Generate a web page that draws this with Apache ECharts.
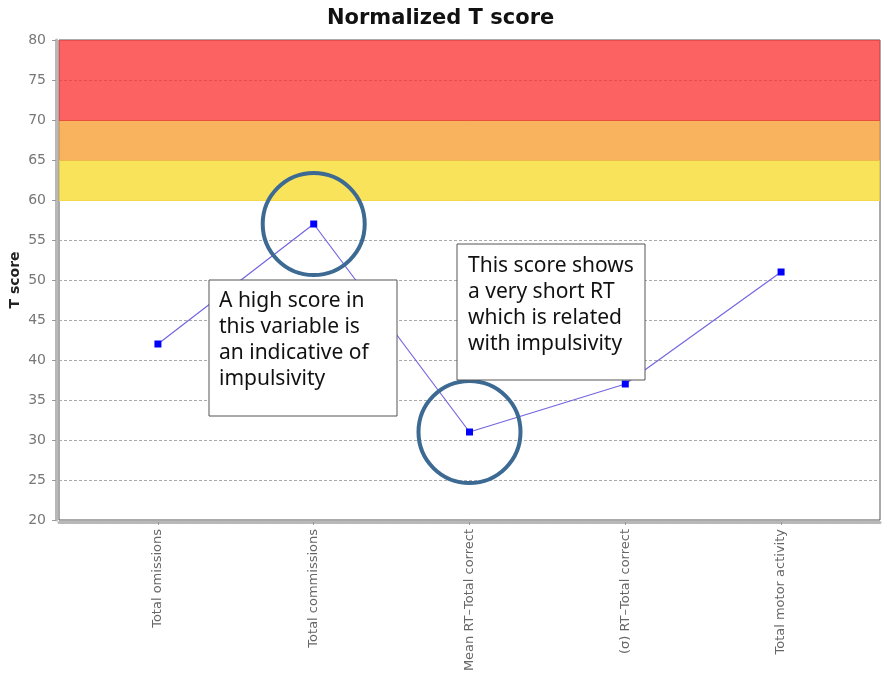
<!DOCTYPE html>
<html><head><meta charset="utf-8">
<script src="https://cdn.jsdelivr.net/npm/echarts@6/dist/echarts.min.js"></script>
<style>html,body{margin:0;padding:0;background:#fff}#c{width:883px;height:686px}</style>
</head><body><div id="c"></div>
<script>
const categories = ["Total omissions", "Total commissions", "Mean RT\u2013Total correct", "(\u03c3) RT\u2013Total correct", "Total motor activity"];
const tScores = [42, 57, 31, 37, 51];
const highlighted = [1, 2];
const yTicks = [20, 25, 30, 35, 40, 45, 50, 55, 60, 65, 70, 75, 80];
const bands = [[60, 65], [65, 70], [70, 80]];
const notes = ["A high score in\nthis variable is\nan indicative of\nimpulsivity", "This score shows\na very short RT\nwhich is related\nwith impulsivity"];

const chart = echarts.init(document.getElementById('c'));
const bandColors = ['rgba(246,218,36,0.75)', 'rgba(247,152,39,0.75)', 'rgba(252,46,46,0.75)'];
const bandLineColors = ['#f2d84a', '#f0b84a', '#e8503c'];
const idx = categories.map((_, i) => i);
chart.setOption({
  animation: false,
  title: { text: 'Normalized T score', left: 322, top: 3,
    textStyle: { fontFamily: 'DejaVu Sans', fontSize: 21, fontWeight: 'bold', color: '#111' } },
  grid: { left: 59, right: 3, top: 40, bottom: 166, show: true, borderColor: '#555', borderWidth: 1,
    containLabel: false, outerBoundsMode: 'none' },
  xAxis: { type: 'value', min: -0.635, max: 4.635, offset: 2,
    axisLine: { show: true, onZero: false, lineStyle: { color: '#b8b8b8', width: 3 } },
    splitLine: { show: false },
    axisTick: { show: true, customValues: idx, length: 3, lineStyle: { color: '#999' } },
    axisLabel: { customValues: idx, rotate: 90, fontSize: 13, color: '#666', fontFamily: 'DejaVu Sans', margin: 7,
      formatter: v => categories[Math.round(v)] } },
  yAxis: { type: 'value', min: 20, max: 80, interval: 5, offset: 3,
    name: 'T score', nameLocation: 'middle', nameGap: 34, nameMoveOverlap: false,
    nameTextStyle: { fontFamily: 'DejaVu Sans', fontSize: 14, fontWeight: 'bold', color: '#222' },
    axisLine: { show: true, onZero: false, lineStyle: { color: '#b8b8b8', width: 3 } },
    axisTick: { show: true, length: 4, lineStyle: { color: '#999' } },
    axisLabel: { fontSize: 14, color: '#777', fontFamily: 'DejaVu Sans', margin: 10,
      customValues: yTicks },
    splitLine: { show: true, lineStyle: { color: '#aaa', type: [3, 2], width: 1 } } },
  series: [
    { type: 'line', data: [], silent: true,
      markArea: { silent: true, data: bands.map((b, i) => [{ yAxis: b[0], itemStyle: { color: bandColors[i] } }, { yAxis: b[1] }]) },
      markLine: { silent: true, symbol: 'none', label: { show: false },
        data: bands.map((b, i) => ({ yAxis: b[0], lineStyle: { color: bandLineColors[i], type: 'solid', width: 1 } })) } },
    { type: 'line', data: tScores.map((v, i) => [i, v]), symbol: 'rect', symbolSize: 7,
      lineStyle: { color: '#7366e0', width: 1.2 }, itemStyle: { color: '#0000ff' }, z: 5 },
    { type: 'scatter', data: highlighted.map(i => [i, tScores[i]]), symbol: 'circle', symbolSize: 102,
      itemStyle: { color: 'rgba(0,0,0,0)', borderColor: '#3d6a93', borderWidth: 4, opacity: 1 }, z: 6, silent: true }
  ],
  graphic: [
    { type: 'rect', shape: { x: 209, y: 280, width: 188, height: 136 }, style: { fill: '#fff', stroke: '#555', lineWidth: 1 }, z: 100 },
    { type: 'text', x: 219, y: 288, style: { text: notes[0], font: '21px "Noto Sans"', lineHeight: 26, fill: '#111' }, z: 101 },
    { type: 'rect', shape: { x: 457, y: 244, width: 188, height: 136 }, style: { fill: '#fff', stroke: '#555', lineWidth: 1 }, z: 100 },
    { type: 'text', x: 468, y: 253, style: { text: notes[1], font: '21px "Noto Sans"', lineHeight: 26, fill: '#111' }, z: 101 }
  ]
});
</script></body></html>
